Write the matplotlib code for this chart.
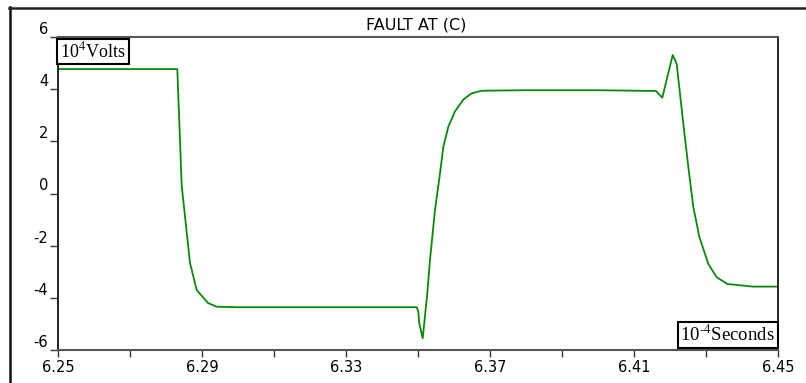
import matplotlib.pyplot as plt
from matplotlib.lines import Line2D

plt.rcParams['font.family'] = ['DejaVu Sans']
plt.rcParams['mathtext.fontset'] = 'stix'

# waveform (x in 1e-4 s, y in 1e4 V)
t = [6.25, 6.28314, 6.28436, 6.28667, 6.28853, 6.29167, 6.29408, 6.30, 6.32,
     6.34964, 6.35008, 6.35036, 6.35131, 6.35258, 6.35333, 6.35472, 6.35611,
     6.35703, 6.35778, 6.35842, 6.36028, 6.36258, 6.36408,
     6.36492, 6.36769, 6.38, 6.40,
     6.41611, 6.41786, 6.42075, 6.42186, 6.42369, 6.42508, 6.42647, 6.42814,
     6.43064, 6.43297, 6.43592, 6.44314, 6.45]
v = [4.77, 4.77, 0.30, -2.67, -3.70, -4.20, -4.34, -4.36, -4.36,
     -4.36, -4.52, -4.98, -5.55, -3.83, -2.55, -0.63, 0.77,
     1.79, 2.20, 2.56, 3.15, 3.60, 3.76,
     3.84, 3.94, 3.96, 3.96,
     3.93, 3.67, 5.31, 4.96, 2.69, 1.03, -0.51, -1.66,
     -2.70, -3.21, -3.47, -3.57, -3.57]

xticks = [6.25, 6.27, 6.29, 6.31, 6.33, 6.35, 6.37, 6.39, 6.41, 6.43, 6.45]
xlabels = ['6.25', '', '6.29', '', '6.33', '', '6.37', '', '6.41', '', '6.45']
yticks = [-6, -4, -2, 0, 2, 4, 6]

W, H = 806, 383
fig = plt.figure(figsize=(W / 100, H / 100), dpi=100)
ax = fig.add_axes([58 / W, 33 / H, 720 / W, 313 / H])

ax.plot(t, v, color='#0a8a0a', lw=1.3)

ax.set_xlim(6.25, 6.45)
ax.set_ylim(-6, 6)
ax.set_xticks(xticks)
ax.set_xticklabels(xlabels, fontsize=10.5)
ax.set_yticks(yticks)
ax.set_yticklabels([str(y) for y in yticks], fontsize=10.5)
for lbl in ax.get_yticklabels():
    lbl.set_verticalalignment('bottom')
ax.tick_params(axis='x', direction='out', length=5, width=1, pad=2, color='#333333')
ax.tick_params(axis='y', direction='out', length=6, width=1, pad=1, color='#333333')

for side in ['top', 'bottom']:
    ax.spines[side].set_color('#555555')
    ax.spines[side].set_linewidth(1.5)
for side in ['left', 'right']:
    ax.spines[side].set_color('#111111')
    ax.spines[side].set_linewidth(1.3)

fig.text(416 / W, 1 - 25 / H, 'FAULT AT (C)', ha='center', va='center', fontsize=11.5)

box = dict(boxstyle='square,pad=0.15', facecolor='white', edgecolor='black', linewidth=1.5)
ax.text(0.003, 0.985, '10$^{4}$Volts', transform=ax.transAxes, ha='left', va='top',
        fontsize=13, family='Liberation Serif', bbox=box)
ax.text(0.996, 0.015, r'10$^{\text{-}4}$Seconds', transform=ax.transAxes, ha='right',
        va='bottom', fontsize=13.5, family='Liberation Serif', bbox=box)

# outer frame lines (left and top)
fig.add_artist(Line2D([9.5 / W, 9.5 / W], [0, 1 - 7 / H], transform=fig.transFigure,
                      color='#111111', lw=1.8))
fig.add_artist(Line2D([9 / W, 1], [1 - 7.5 / H, 1 - 7.5 / H], transform=fig.transFigure,
                      color='#222222', lw=1.8))

fig.savefig('out.png', dpi=100)
